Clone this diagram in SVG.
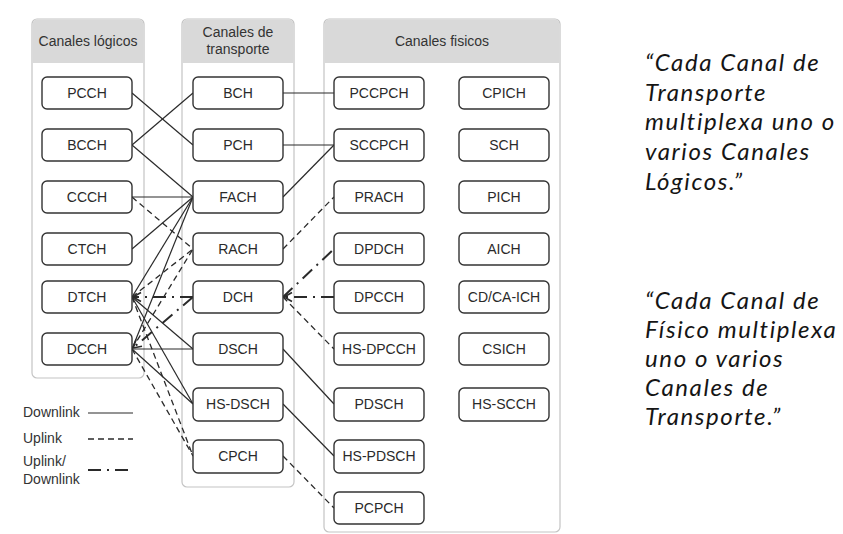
<svg xmlns="http://www.w3.org/2000/svg" width="843" height="534" viewBox="0 0 843 534">
  <style>
    .panel { fill: #ffffff; stroke: #c4c4c4; stroke-width: 1.2; }
    .head { fill: #d9d9d9; }
    .htxt { font-family: "Liberation Sans", Arial, sans-serif; font-size: 14px; fill: #333; text-anchor: middle; }
    .node rect { fill: #ffffff; stroke: #333; stroke-width: 1.4; }
    .node text { font-family: "Liberation Sans", Arial, sans-serif; font-size: 14px; fill: #2a2a2a; text-anchor: middle; }
    .dl { fill: none; stroke: #2a2a2a; stroke-width: 1.2; }
    .ul { fill: none; stroke: #2a2a2a; stroke-width: 1.3; stroke-dasharray: 6 4; }
    .ud { fill: none; stroke: #2a2a2a; stroke-width: 2; stroke-dasharray: 13 6 2 6; }
    .leg { font-family: "Liberation Sans", Arial, sans-serif; font-size: 14px; fill: #333; }
    .note { font-family: "Lato", "Open Sans", sans-serif; font-style: italic; font-size: 24px; letter-spacing: 1.6px; fill: #151515; }
  </style>
  <defs>
    <marker id="arr" viewBox="-10 -6 12 12" refX="0" refY="0" markerWidth="12" markerHeight="12" markerUnits="userSpaceOnUse" orient="auto">
      <path d="M-8,-4.5 L0,0 L-8,4.5" fill="none" stroke="#2a2a2a" stroke-width="1.6" stroke-dasharray="none"/>
    </marker>
  </defs>

  <rect width="843" height="534" fill="#ffffff"/>

  <!-- column panels -->
  <g id="panel-logicos">
    <rect class="panel" x="32" y="19" width="112" height="359" rx="5"/>
    <path class="head" d="M32.6,63 V24 a5,5 0 0 1 5,-4.4 H138.4 a5,5 0 0 1 5,4.4 V63 Z"/>
    <text class="htxt" x="88" y="46">Canales lógicos</text>
  </g>
  <g id="panel-transporte">
    <rect class="panel" x="182" y="19" width="112" height="468" rx="5"/>
    <path class="head" d="M182.6,63 V24 a5,5 0 0 1 5,-4.4 H288.4 a5,5 0 0 1 5,4.4 V63 Z"/>
    <text class="htxt" x="238" y="37">Canales de</text>
    <text class="htxt" x="238" y="54">transporte</text>
  </g>
  <g id="panel-fisicos">
    <rect class="panel" x="324" y="19" width="236" height="513" rx="5"/>
    <path class="head" d="M324.6,63 V24 a5,5 0 0 1 5,-4.4 H554.4 a5,5 0 0 1 5,4.4 V63 Z"/>
    <text class="htxt" x="442" y="46">Canales fisicos</text>
  </g>

  <!-- connectors -->
  <g id="connectors">
    <!-- logical to transport -->
    <line class="dl" x1="132" y1="93" x2="193" y2="145"/>
    <line class="dl" x1="132" y1="145" x2="193" y2="93"/>
    <line class="dl" x1="132" y1="145" x2="193" y2="197"/>
    <line class="dl" x1="132" y1="197" x2="193" y2="197"/>
    <line class="ul" x1="132" y1="197" x2="193" y2="249"/>
    <line class="dl" x1="132" y1="249" x2="193" y2="197"/>
    <line class="dl" x1="132" y1="297" x2="193" y2="197"/>
    <line class="dl" x1="132" y1="349" x2="193" y2="197"/>
    <line class="ul" x1="132" y1="297" x2="193" y2="249"/>
    <line class="ul" x1="132" y1="349" x2="193" y2="249"/>
    <line class="ud" x1="193" y1="297" x2="133" y2="297" marker-end="url(#arr)"/>
    <line class="ud" x1="193" y1="297" x2="133" y2="348" marker-end="url(#arr)"/>
    <line class="dl" x1="132" y1="297" x2="193" y2="349"/>
    <line class="dl" x1="132" y1="349" x2="193" y2="349"/>
    <line class="dl" x1="132" y1="297" x2="193" y2="404"/>
    <line class="dl" x1="132" y1="349" x2="193" y2="404"/>
    <line class="ul" x1="132" y1="297" x2="193" y2="456"/>
    <line class="ul" x1="132" y1="349" x2="193" y2="456"/>
    <!-- transport to physical -->
    <line class="dl" x1="283" y1="93" x2="334" y2="93"/>
    <line class="dl" x1="283" y1="145" x2="334" y2="145"/>
    <line class="dl" x1="283" y1="197" x2="334" y2="145"/>
    <line class="ul" x1="283" y1="249" x2="334" y2="197"/>
    <line class="ud" x1="283" y1="297" x2="334" y2="249"/>
    <line class="ud" x1="334" y1="297" x2="284" y2="297" marker-end="url(#arr)"/>
    <line class="ul" x1="283" y1="297" x2="334" y2="349"/>
    <line class="dl" x1="283" y1="349" x2="334" y2="404"/>
    <line class="dl" x1="283" y1="404" x2="334" y2="456"/>
    <line class="ul" x1="283" y1="456" x2="334" y2="508"/>
  </g>

  <!-- logical channels -->
  <g id="PCCH" class="node"><rect x="42" y="77" width="90" height="32" rx="5"/><text x="87" y="98">PCCH</text></g>
  <g id="BCCH" class="node"><rect x="42" y="129" width="90" height="32" rx="5"/><text x="87" y="150">BCCH</text></g>
  <g id="CCCH" class="node"><rect x="42" y="181" width="90" height="32" rx="5"/><text x="87" y="202">CCCH</text></g>
  <g id="CTCH" class="node"><rect x="42" y="233" width="90" height="32" rx="5"/><text x="87" y="254">CTCH</text></g>
  <g id="DTCH" class="node"><rect x="42" y="281" width="90" height="32" rx="5"/><text x="87" y="302">DTCH</text></g>
  <g id="DCCH" class="node"><rect x="42" y="333" width="90" height="32" rx="5"/><text x="87" y="354">DCCH</text></g>

  <!-- transport channels -->
  <g id="BCH" class="node"><rect x="193" y="77" width="90" height="32" rx="5"/><text x="238" y="98">BCH</text></g>
  <g id="PCH" class="node"><rect x="193" y="129" width="90" height="32" rx="5"/><text x="238" y="150">PCH</text></g>
  <g id="FACH" class="node"><rect x="193" y="181" width="90" height="32" rx="5"/><text x="238" y="202">FACH</text></g>
  <g id="RACH" class="node"><rect x="193" y="233" width="90" height="32" rx="5"/><text x="238" y="254">RACH</text></g>
  <g id="DCH" class="node"><rect x="193" y="281" width="90" height="32" rx="5"/><text x="238" y="302">DCH</text></g>
  <g id="DSCH" class="node"><rect x="193" y="333" width="90" height="32" rx="5"/><text x="238" y="354">DSCH</text></g>
  <g id="HS-DSCH" class="node"><rect x="193" y="388" width="90" height="33" rx="5"/><text x="238" y="409">HS-DSCH</text></g>
  <g id="CPCH" class="node"><rect x="193" y="440" width="90" height="33" rx="5"/><text x="238" y="461">CPCH</text></g>

  <!-- physical channels -->
  <g id="PCCPCH" class="node"><rect x="334" y="77" width="90" height="32" rx="5"/><text x="379" y="98">PCCPCH</text></g>
  <g id="SCCPCH" class="node"><rect x="334" y="129" width="90" height="32" rx="5"/><text x="379" y="150">SCCPCH</text></g>
  <g id="PRACH" class="node"><rect x="334" y="181" width="90" height="32" rx="5"/><text x="379" y="202">PRACH</text></g>
  <g id="DPDCH" class="node"><rect x="334" y="233" width="90" height="32" rx="5"/><text x="379" y="254">DPDCH</text></g>
  <g id="DPCCH" class="node"><rect x="334" y="281" width="90" height="32" rx="5"/><text x="379" y="302">DPCCH</text></g>
  <g id="HS-DPCCH" class="node"><rect x="334" y="333" width="90" height="32" rx="5"/><text x="379" y="354">HS-DPCCH</text></g>
  <g id="PDSCH" class="node"><rect x="334" y="388" width="90" height="33" rx="5"/><text x="379" y="409">PDSCH</text></g>
  <g id="HS-PDSCH" class="node"><rect x="334" y="440" width="90" height="33" rx="5"/><text x="379" y="461">HS-PDSCH</text></g>
  <g id="PCPCH" class="node"><rect x="334" y="492" width="90" height="32" rx="5"/><text x="379" y="513">PCPCH</text></g>

  <g id="CPICH" class="node"><rect x="459" y="77" width="90" height="32" rx="5"/><text x="504" y="98">CPICH</text></g>
  <g id="SCH" class="node"><rect x="459" y="129" width="90" height="32" rx="5"/><text x="504" y="150">SCH</text></g>
  <g id="PICH" class="node"><rect x="459" y="181" width="90" height="32" rx="5"/><text x="504" y="202">PICH</text></g>
  <g id="AICH" class="node"><rect x="459" y="233" width="90" height="32" rx="5"/><text x="504" y="254">AICH</text></g>
  <g id="CD-CA-ICH" class="node"><rect x="459" y="281" width="90" height="32" rx="5"/><text x="504" y="302">CD/CA-ICH</text></g>
  <g id="CSICH" class="node"><rect x="459" y="333" width="90" height="32" rx="5"/><text x="504" y="354">CSICH</text></g>
  <g id="HS-SCCH" class="node"><rect x="459" y="388" width="90" height="33" rx="5"/><text x="504" y="409">HS-SCCH</text></g>

  <!-- legend -->
  <g id="legend">
    <text class="leg" x="23" y="417">Downlink</text>
    <line class="dl" x1="88" y1="413" x2="133" y2="413"/>
    <text class="leg" x="23" y="443">Uplink</text>
    <line class="ul" x1="88" y1="439" x2="133" y2="439" stroke-dasharray="7 5"/>
    <text class="leg" x="23" y="466">Uplink/</text>
    <text class="leg" x="23" y="484">Downlink</text>
    <line class="ud" x1="88" y1="470" x2="133" y2="470" stroke-dasharray="13 7 2 7"/>
  </g>

  <!-- side notes -->
  <g id="note-transporte">
    <text class="note" x="645" y="71">“Cada Canal de</text>
    <text class="note" x="645" y="100.5">Transporte</text>
    <text class="note" x="645" y="130">multiplexa uno o</text>
    <text class="note" x="645" y="160">varios Canales</text>
    <text class="note" x="645" y="190">Lógicos.”</text>
  </g>
  <g id="note-fisico">
    <text class="note" x="645" y="309">“Cada Canal de</text>
    <text class="note" x="645" y="338">Físico multiplexa</text>
    <text class="note" x="645" y="367">uno o varios</text>
    <text class="note" x="645" y="396">Canales de</text>
    <text class="note" x="645" y="425">Transporte.”</text>
  </g>
</svg>
